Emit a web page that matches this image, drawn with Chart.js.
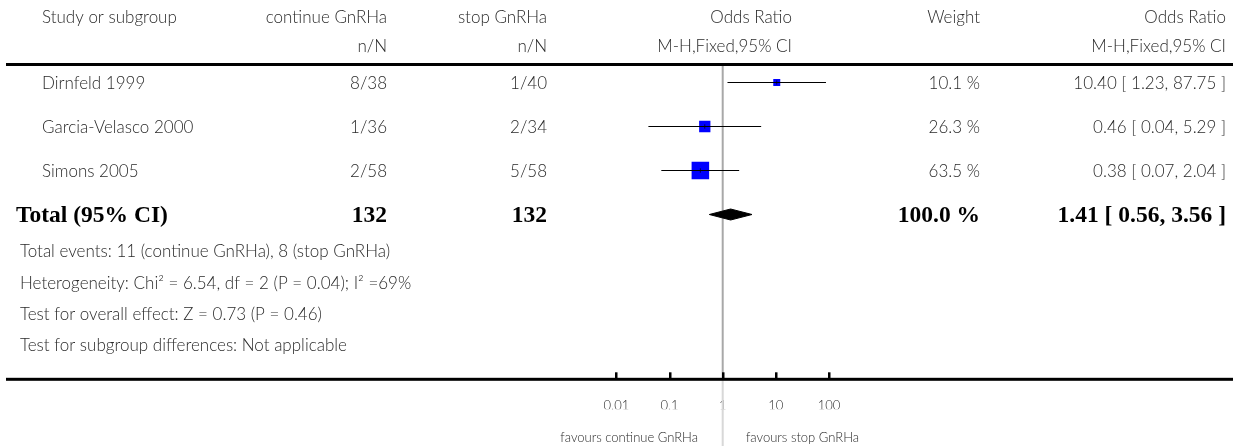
<!DOCTYPE html>
<html>
<head>
<meta charset="utf-8">
<script src="https://cdn.jsdelivr.net/npm/chart.js@4"></script>
<style>
html, body { margin: 0; padding: 0; background: #fff; }
#wrap { position: relative; width: 1239px; height: 446px; }
</style>
</head>
<body>
<div id="wrap"><canvas id="forest"></canvas></div>
<script>
const studies = ['Dirnfeld 1999', 'Garcia-Velasco 2000', 'Simons 2005']
const continueEvents = [8, 1, 2]
const continueTotal = [38, 36, 58]
const stopEvents = [1, 2, 5]
const stopTotal = [40, 34, 58]
const oddsRatio = [10.40, 0.46, 0.38]
const ciLower = [1.23, 0.04, 0.07]
const ciUpper = [87.75, 5.29, 2.04]
const weights = [10.1, 26.3, 63.5]

// pooled estimate: odds ratio, lower, upper
const pooled = [1.41, 0.56, 3.56]
const pooledWeight = 100.0

const axisTicks = [0.01, 0.1, 1, 10, 100]
const headers = ['Study or subgroup', 'continue GnRHa', 'stop GnRHa', 'Odds Ratio', 'Weight', 'Odds Ratio']
const subHeaders = ['n/N', 'n/N', 'M-H,Fixed,95% CI', 'M-H,Fixed,95% CI']
const heterogeneity = 'Heterogeneity: Chi\u00b2 = 6.54, df = 2 (P = 0.04); I\u00b2 =69%'
const overallEffect = 'Test for overall effect: Z = 0.73 (P = 0.46)'
const subgroupTest = 'Test for subgroup differences: Not applicable'
const favours = ['favours continue GnRHa', 'favours stop GnRHa']

const sum = arr => arr.reduce((a, b) => a + b, 0)
const totalRow = studies.length + 1
const rowPx = 44
const yMax = 7.745
const sans = 'Lato, "Open Sans", sans-serif'
const serif = '"Liberation Serif", "DejaVu Serif", serif'
const ink = '#2a2a2a'

const fmtCI = (m, lo, hi) => `${m.toFixed(2)} [ ${lo.toFixed(2)}, ${hi.toFixed(2)} ]`

// table text, rules and upward ticks on the bottom axis
const tablePlugin = {
    id: 'forestTable',
    afterDraw(chart) {
        const {ctx, chartArea, scales} = chart
        const x = scales.x, y = scales.y
        ctx.save()

        ctx.fillStyle = '#000'
        ctx.fillRect(6, 63, 1227, 3)
        ctx.fillRect(6, chartArea.bottom - 1.5, 1227, 3)
        axisTicks.forEach(v => {
            const px = Math.round(x.getPixelForValue(v))
            ctx.fillRect(px - 1, chartArea.bottom - 7, 2.5, 7)
        })

        const text = (s, tx, ty, align, font) => {
            ctx.font = font || `300 17px ${sans}`
            ctx.textAlign = align
            ctx.textBaseline = 'middle'
            ctx.fillText(s, tx, ty)
        }
        ctx.fillStyle = ink

        text(headers[0], 42, 18, 'left')
        text(headers[1], 387, 18, 'right')
        text(headers[2], 547, 18, 'right')
        text(headers[3], 792, 18, 'right')
        text(headers[4], 980, 18, 'right')
        text(headers[5], 1226, 18, 'right')
        text(subHeaders[0], 387, 47, 'right')
        text(subHeaders[1], 547, 47, 'right')
        text(subHeaders[2], 792, 47, 'right')
        text(subHeaders[3], 1226, 47, 'right')

        studies.forEach((s, i) => {
            const ty = y.getPixelForValue(i + 1) + 1
            text(s, 42, ty, 'left')
            text(`${continueEvents[i]}/${continueTotal[i]}`, 387, ty, 'right')
            text(`${stopEvents[i]}/${stopTotal[i]}`, 547, ty, 'right')
            text(`${weights[i].toFixed(1)} %`, 980, ty, 'right')
            text(fmtCI(oddsRatio[i], ciLower[i], ciUpper[i]), 1226, ty, 'right')
        })

        ctx.fillStyle = '#000'
        const bold = `bold 23.5px ${serif}`
        const ty = y.getPixelForValue(totalRow) + 1
        text('Total (95% CI)', 16, ty, 'left', bold)
        text(String(sum(continueTotal)), 387, ty, 'right', bold)
        text(String(sum(stopTotal)), 547, ty, 'right', bold)
        text(`${pooledWeight.toFixed(1)} %`, 980, ty, 'right', bold)
        text(fmtCI(pooled[0], pooled[1], pooled[2]), 1226, ty, 'right', bold)

        ctx.fillStyle = ink
        const notes = [
            `Total events: ${sum(continueEvents)} (continue GnRHa), ${sum(stopEvents)} (stop GnRHa)`,
            heterogeneity, overallEffect, subgroupTest
        ]
        notes.forEach((s, i) => text(s, 20, 252 + i * 31.3, 'left'))

        text(favours[0], 698, 438, 'right', `300 13px ${sans}`)
        text(favours[1], 746, 438, 'left', `300 13px ${sans}`)
        ctx.restore()
    }
}

const rows = studies.map((s, i) => i + 1)
const diamondHalf = 5.5 / rowPx

const datasets = [
    // small vertical mark at each point estimate
    {
        data: rows.map((r, i) => ({x: oddsRatio[i], y: r})),
        pointStyle: 'line', rotation: 90, pointRadius: 2.2,
        borderColor: '#000', borderWidth: 0.7, order: 0
    },
    // confidence intervals
    ...rows.map((r, i) => ({
        data: [{x: ciLower[i], y: r}, {x: ciUpper[i], y: r}],
        showLine: true, pointRadius: 0, borderColor: '#000', borderWidth: 1.2, order: 1
    })),
    // study weights as squares
    {
        data: rows.map((r, i) => ({x: oddsRatio[i], y: r})),
        pointStyle: 'rect',
        pointRadius: weights.map(w => 2.2 * Math.sqrt(w) / Math.SQRT2),
        backgroundColor: '#0000ff', borderWidth: 0, order: 2
    },
    // pooled diamond
    {
        data: [
            {x: pooled[1], y: totalRow},
            {x: pooled[0], y: totalRow - diamondHalf},
            {x: pooled[2], y: totalRow},
            {x: pooled[0], y: totalRow + diamondHalf},
            {x: pooled[1], y: totalRow}
        ],
        showLine: true, fill: 'shape', tension: 0, pointRadius: 0,
        backgroundColor: '#000', borderColor: '#000', borderWidth: 1, order: 1
    },
    // line of no effect
    {
        data: [{x: 1, y: 0.6}, {x: 1, y: yMax}],
        showLine: true, pointRadius: 0, borderColor: '#a8a8a8', borderWidth: 2, order: 5
    },
    {
        data: [{x: 1, y: yMax}, {x: 1, y: 9.5}],
        showLine: true, pointRadius: 0, borderColor: '#d8d8d8', borderWidth: 2, order: 5, clip: false
    }
]

new Chart(document.getElementById('forest'), {
    type: 'scatter',
    data: {datasets},
    options: {
        responsive: true,
        maintainAspectRatio: false,
        animation: false,
        events: [],
        layout: {padding: {left: 563.25, right: 356.85, top: 38.5, bottom: 36.7}},
        plugins: {legend: {display: false}, tooltip: {enabled: false}},
        scales: {
            x: {
                type: 'logarithmic', min: 0.001, max: 1000,
                grid: {display: false, drawTicks: false},
                border: {display: false},
                afterBuildTicks: s => { s.ticks = axisTicks.map(v => ({value: v})) },
                afterFit: s => { s.height = 30 },
                ticks: {
                    autoSkip: false, maxRotation: 0, padding: 19, color: ink,
                    font: {family: sans, size: 13, weight: 300},
                    callback: v => String(v)
                }
            },
            y: {type: 'linear', reverse: true, min: 0, max: yMax, display: false}
        }
    },
    plugins: [tablePlugin]
})
</script>
</body>
</html>
